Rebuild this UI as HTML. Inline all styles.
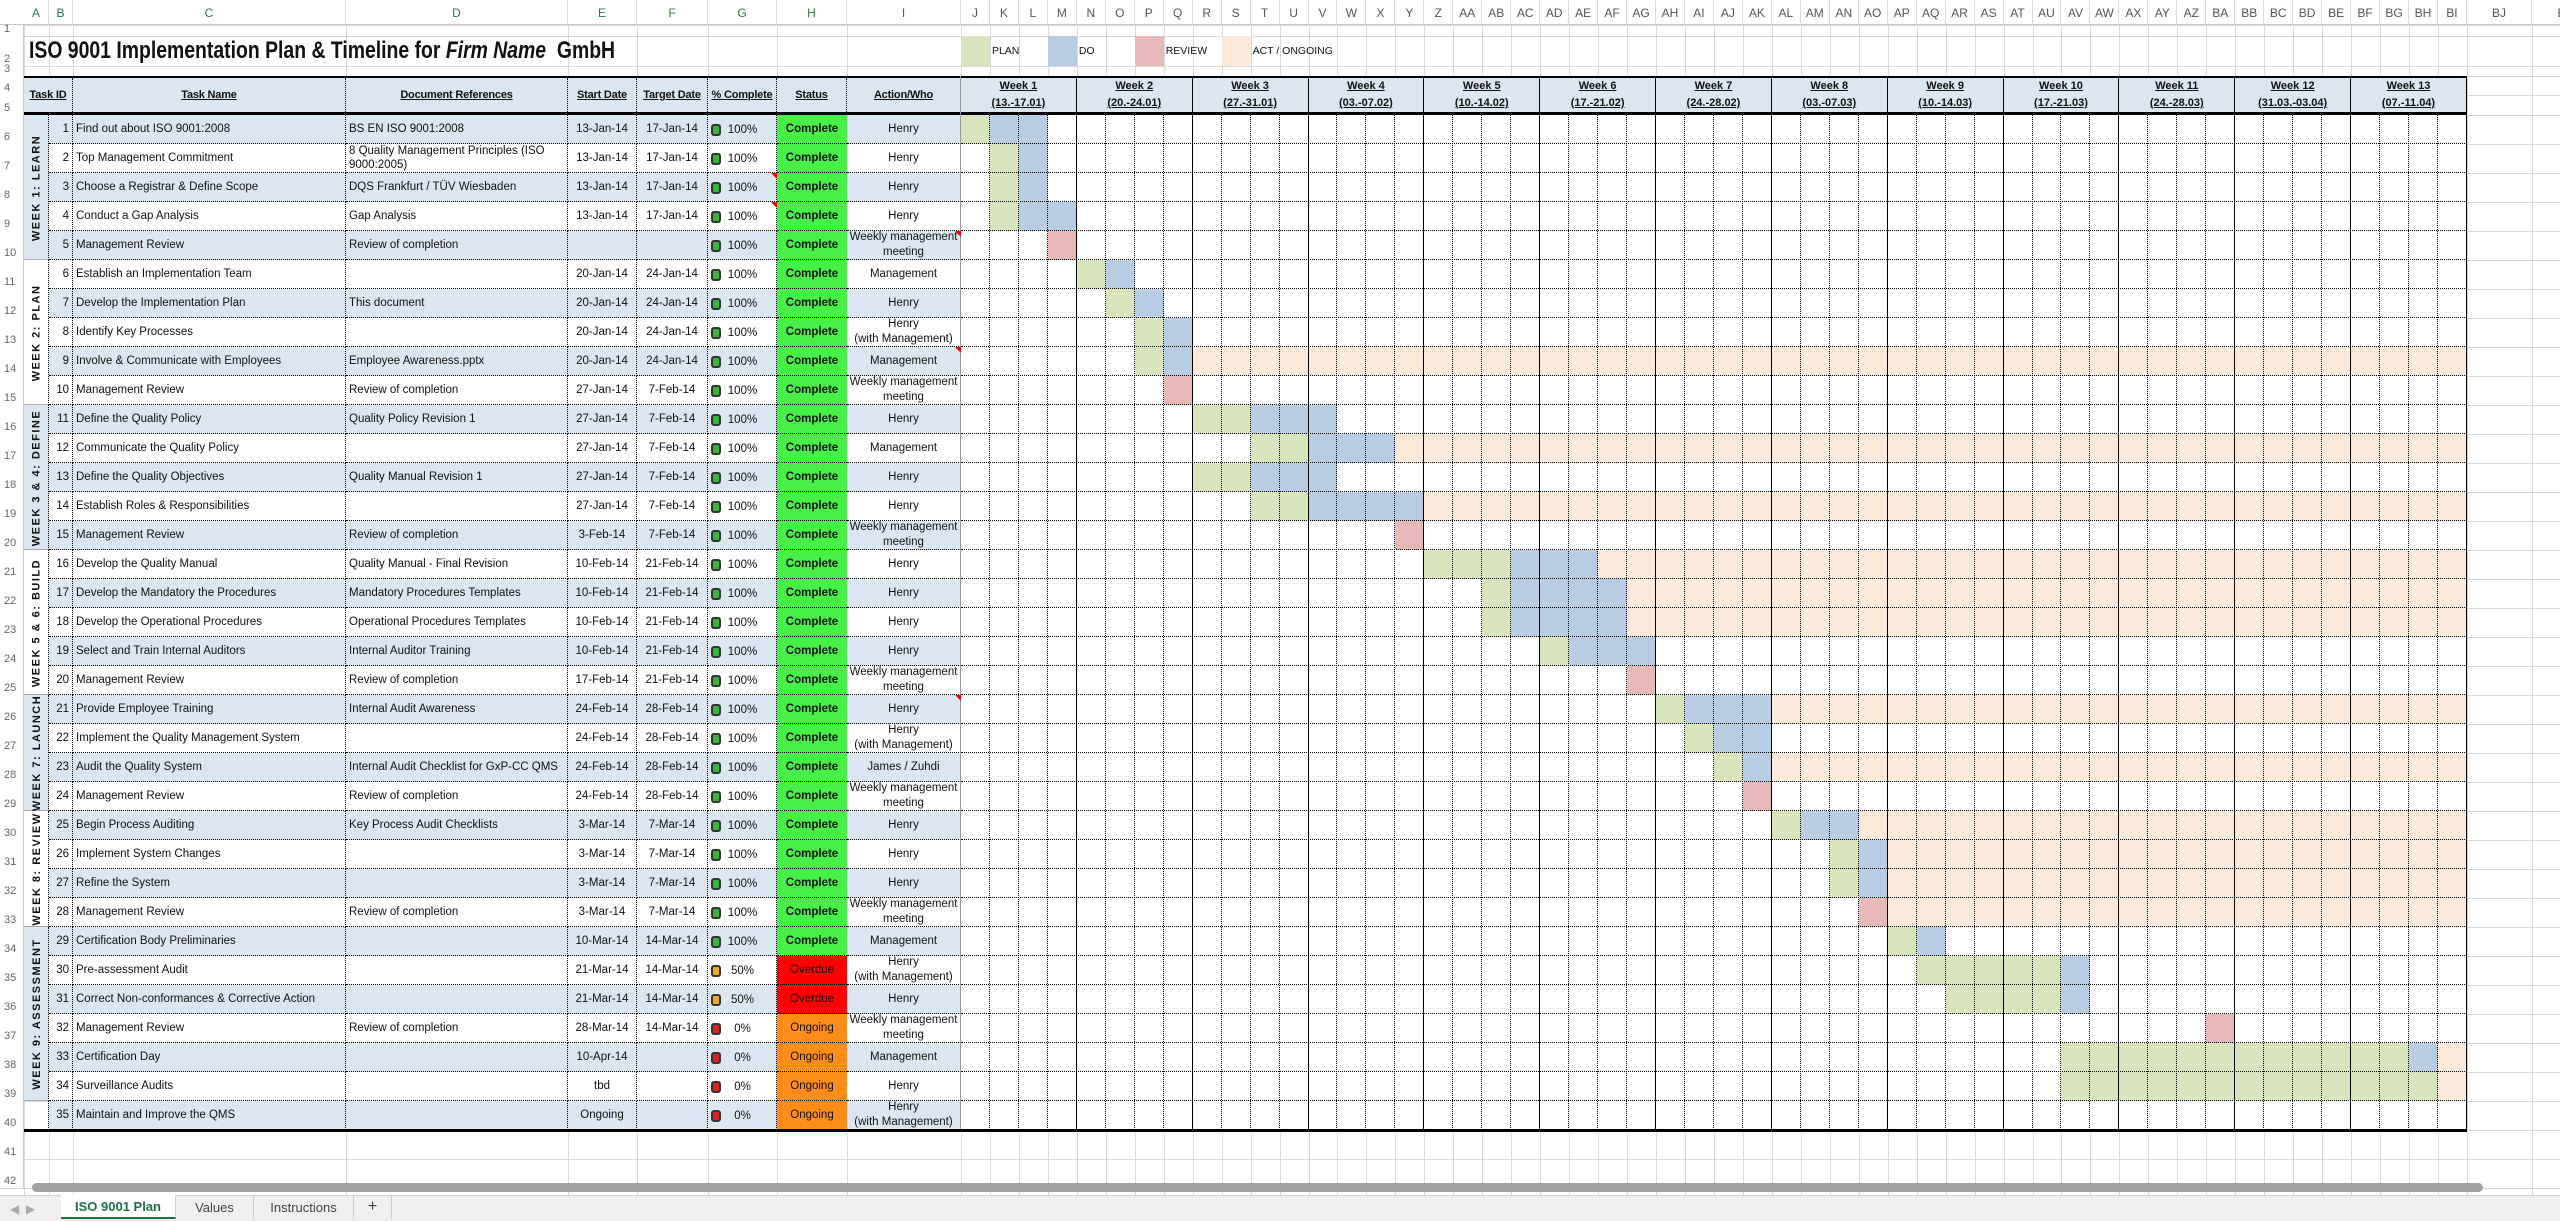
<!DOCTYPE html>
<html><head><meta charset="utf-8">
<style>
body{margin:0;width:2560px;height:1221px;position:relative;overflow:hidden;background:#fff;font-family:"Liberation Sans Narrow","Liberation Sans",sans-serif;color:#111}
.a{position:absolute;box-sizing:border-box}
.t{display:flex;align-items:center;white-space:nowrap;font-size:11.5px}
.c{justify-content:center;text-align:center}
</style></head>
<body>
<div id="sheet" class="a" style="left:0;top:0;width:2560px;height:1221px"></div>
<script>
const taskNames=["Find out about ISO 9001:2008","Top Management Commitment","Choose a Registrar & Define Scope","Conduct a Gap Analysis","Management Review","Establish an Implementation Team","Develop the Implementation Plan","Identify Key Processes","Involve & Communicate with Employees","Management Review","Define the Quality Policy","Communicate the Quality Policy","Define the Quality Objectives","Establish Roles & Responsibilities","Management Review","Develop the Quality Manual","Develop the Mandatory the Procedures","Develop the Operational Procedures","Select and Train Internal Auditors","Management Review","Provide Employee Training","Implement the Quality Management System","Audit the Quality System","Management Review","Begin Process Auditing","Implement System Changes","Refine the System","Management Review","Certification Body Preliminaries","Pre-assessment Audit","Correct Non-conformances & Corrective Action","Management Review","Certification Day","Surveillance Audits","Maintain and Improve the QMS"];
const docRefs=["BS EN ISO 9001:2008","8 Quality Management Principles (ISO<br>9000:2005)","DQS Frankfurt / TÜV Wiesbaden","Gap Analysis","Review of completion","","This document","","Employee Awareness.pptx","Review of completion","Quality Policy Revision 1","","Quality Manual Revision 1","","Review of completion","Quality Manual - Final Revision","Mandatory Procedures Templates","Operational Procedures Templates","Internal Auditor Training","Review of completion","Internal Audit Awareness","","Internal Audit Checklist for GxP-CC QMS","Review of completion","Key Process Audit Checklists","","","Review of completion","","","","Review of completion","","",""];
const startDates=["13-Jan-14","13-Jan-14","13-Jan-14","13-Jan-14","","20-Jan-14","20-Jan-14","20-Jan-14","20-Jan-14","27-Jan-14","27-Jan-14","27-Jan-14","27-Jan-14","27-Jan-14","3-Feb-14","10-Feb-14","10-Feb-14","10-Feb-14","10-Feb-14","17-Feb-14","24-Feb-14","24-Feb-14","24-Feb-14","24-Feb-14","3-Mar-14","3-Mar-14","3-Mar-14","3-Mar-14","10-Mar-14","21-Mar-14","21-Mar-14","28-Mar-14","10-Apr-14","tbd","Ongoing"];
const targetDates=["17-Jan-14","17-Jan-14","17-Jan-14","17-Jan-14","","24-Jan-14","24-Jan-14","24-Jan-14","24-Jan-14","7-Feb-14","7-Feb-14","7-Feb-14","7-Feb-14","7-Feb-14","7-Feb-14","21-Feb-14","21-Feb-14","21-Feb-14","21-Feb-14","21-Feb-14","28-Feb-14","28-Feb-14","28-Feb-14","28-Feb-14","7-Mar-14","7-Mar-14","7-Mar-14","7-Mar-14","14-Mar-14","14-Mar-14","14-Mar-14","14-Mar-14","","",""];
const pctComplete=[100,100,100,100,100,100,100,100,100,100,100,100,100,100,100,100,100,100,100,100,100,100,100,100,100,100,100,100,100,50,50,0,0,0,0];
const statuses=["Complete","Complete","Complete","Complete","Complete","Complete","Complete","Complete","Complete","Complete","Complete","Complete","Complete","Complete","Complete","Complete","Complete","Complete","Complete","Complete","Complete","Complete","Complete","Complete","Complete","Complete","Complete","Complete","Complete","Overdue","Overdue","Ongoing","Ongoing","Ongoing","Ongoing"];
const owners=["Henry","Henry","Henry","Henry","Weekly management<br>meeting","Management","Henry","Henry<br>(with Management)","Management","Weekly management<br>meeting","Henry","Management","Henry","Henry","Weekly management<br>meeting","Henry","Henry","Henry","Henry","Weekly management<br>meeting","Henry","Henry<br>(with Management)","James / Zuhdi","Weekly management<br>meeting","Henry","Henry","Henry","Weekly management<br>meeting","Management","Henry<br>(with Management)","Henry","Weekly management<br>meeting","Management","Henry","Henry<br>(with Management)"];
const planFrom=[0,1,1,1,null,4,5,6,6,null,8,10,8,10,null,16,18,18,20,null,24,25,26,null,28,30,30,null,32,33,34,null,38,38,null];
const planTo=[0,1,1,1,null,4,5,6,6,null,9,11,9,11,null,18,18,18,20,null,24,25,26,null,28,30,30,null,32,37,37,null,49,50,null];
const doFrom=[1,2,2,2,null,5,6,7,7,null,10,12,10,12,null,19,19,19,21,null,25,26,27,null,29,31,31,null,33,38,38,null,50,null,null];
const doTo=[2,2,2,3,null,5,6,7,7,null,12,14,12,15,null,21,22,22,23,null,27,27,27,null,30,31,31,null,33,38,38,null,50,null,null];
const reviewCol=[null,null,null,null,3,null,null,null,null,7,null,null,null,null,15,null,null,null,null,23,null,null,null,27,null,null,null,31,null,null,null,43,null,null,null];
const actFrom=[null,null,null,null,null,null,null,null,8,null,null,15,null,16,null,22,23,23,null,null,28,null,28,null,31,32,32,32,null,null,null,null,51,51,null];
const weekLabels=["Week 1","Week 2","Week 3","Week 4","Week 5","Week 6","Week 7","Week 8","Week 9","Week 10","Week 11","Week 12","Week 13"];
const weekDates=["(13.-17.01)","(20.-24.01)","(27.-31.01)","(03.-07.02)","(10.-14.02)","(17.-21.02)","(24.-28.02)","(03.-07.03)","(10.-14.03)","(17.-21.03)","(24.-28.03)","(31.03.-03.04)","(07.-11.04)"];
const groupLabels=["WEEK 1: LEARN","WEEK 2: PLAN","WEEK 3 & 4: DEFINE","WEEK 5 & 6: BUILD","WEEK 7: LAUNCH","WEEK 8: REVIEW","WEEK 9: ASSESSMENT"];
const groupRows=[5,5,5,5,4,4,6];

const S=document.getElementById('sheet');
const BLUE='#dce6f1',PLAN='#d8e4bc',DO='#b8cce4',REV='#e6b8b7',ACT='#fde9d9';
const DW=28.96,GX=961,NCOL=52;
const gx=i=>GX+i*DW;
const rowTop=r=>r<=5?[0,25,36,66,76,95][r]:(r<=40?115+(r-6)*29:1130+(r-41)*29);
function box(css,html,cls){const d=document.createElement('div');d.className='a '+(cls||'');d.style.cssText=css;if(html!=null)d.innerHTML=html;S.appendChild(d);return d;}

for(let r=1;r<=43;r++){const y=rowTop(r);const g=box(`left:0;top:${y}px;width:2560px;height:1px;background:#d9d9d9`);

}
const allX=[24,49,73,346,568,637,708,777,847];for(let i=0;i<=NCOL;i++)allX.push(gx(i));allX.push(2532);
allX.forEach(x=>{const g=box(`left:${Math.round(x)}px;top:25px;width:1px;height:1170px;background:#d9d9d9`);

});

function colName(n){let s='';n++;while(n>0){const m=(n-1)%26;s=String.fromCharCode(65+m)+s;n=Math.floor((n-1)/26);}return s;}
const hdrBg=box('left:0;top:0;width:2560px;height:25px;background:#fff;border-bottom:1px solid #c8c8c8');


const cx=[24,49,73,346,568,637,708,777,847];for(let i=0;i<=NCOL;i++)cx.push(gx(i));cx.push(2532,2600);
for(let i=0;i<cx.length-1;i++){const w=cx[i+1]-cx[i];
const h=box(`left:${cx[i]}px;top:0;width:${w}px;height:25px;border-right:1px solid #d9d9d9;font-family:'Liberation Sans',sans-serif;font-size:12px;color:${i<9?'#2a7a3a':'#555'}`,colName(i),'t c');

}
for(let r=1;r<=42;r++){const y=rowTop(r),hh=rowTop(r+1)-y;
const n=box(`left:0;top:${y}px;width:24px;height:${hh}px;font-family:'Liberation Sans',sans-serif;font-size:11px;color:#666;align-items:flex-end;padding:0 0 1px 4px;background:#fff;border-right:1px solid #c8c8c8`,String(r),'t');

}

const title=box('left:29px;top:36px;height:30px;font-size:24px;font-weight:bold;transform-origin:0 50%','<span>ISO 9001 Implementation Plan &amp; Timeline for <i>Firm Name</i>&nbsp; GmbH</span>','t');


const legC=[PLAN,DO,REV,ACT],legT=['PLAN','DO','REVIEW','ACT / ONGOING'],legCol=[0,3,6,9];
for(let i=0;i<4;i++){const sw=box(`left:${gx(legCol[i])}px;top:36px;width:${DW}px;height:30px;background:${legC[i]}`);


const lt=box(`left:${gx(legCol[i]+1)+2}px;top:36px;height:30px;font-size:10.5px`,legT[i],'t');

}

const hdrs=[['Task ID',24,73],['Task Name',73,346],['Document References',346,568],['Start Date',568,637],['Target Date',637,708],['% Complete',708,777],['Status',777,847],['Action/Who',847,961]];
const hb=box(`left:24px;top:76px;width:2443px;height:39px;background:${BLUE};border-top:2px solid #000;border-bottom:3px solid #000`);


hdrs.forEach(h=>{const d=box(`left:${h[1]}px;top:78px;width:${h[2]-h[1]}px;height:34px;font-weight:bold;font-size:11px;text-decoration:underline;border-right:1px dotted #000;letter-spacing:-0.2px`,h[0],'t c');

});
for(let w=0;w<13;w++){const d=box(`left:${gx(w*4)}px;top:78px;width:${DW*4}px;height:34px;font-weight:bold;font-size:11px;text-decoration:underline;border-right:1px solid #000;flex-direction:column;line-height:17px`,'<span>'+weekLabels[w]+'</span><span>'+weekDates[w]+'</span>','t c');

}

for(let i=0;i<35;i++){const y=rowTop(6+i);const bg=i%2===0?BLUE:'#fff';
const row=box(`left:49px;top:${y}px;width:912px;height:29px;background:${bg}`);


const gw=box(`left:961px;top:${y}px;width:${DW*NCOL}px;height:29px;background:#fff`);


const cells=[[49,73,String(i+1),'justify-content:flex-end;padding-right:3px'],[73,346,taskNames[i],'padding-left:3px'],[346,568,'<span>'+docRefs[i]+'</span>','padding-left:3px;white-space:normal;line-height:14px'],[568,637,startDates[i],'justify-content:center'],[637,708,targetDates[i],'justify-content:center'],[708,777,'',''],[777,847,'',''],[847,961,'<span>'+owners[i]+'</span>','justify-content:center;text-align:center;line-height:15px']];
const nm=['task-id','task-name','document-reference','start-date','target-date','percent-complete','status','action-who'];
cells.forEach((c,k)=>{const d=box(`left:${c[0]}px;top:${y}px;width:${c[1]-c[0]}px;height:29px;border-right:1px dotted #000;border-bottom:1px dotted #000;overflow:visible;${c[3]}`,c[2],'t');

});
const sc=statuses[i]==='Complete'?'#46f046':statuses[i]==='Overdue'?'#ff0000':'#fd8c18';
const st=box(`left:777px;top:${y}px;width:70px;height:29px;background:${sc};border-bottom:1px dotted #000;font-weight:${statuses[i]==='Complete'?'bold':'normal'}`,statuses[i],'t c');


const p=pctComplete[i];const ic=p===100?'#34b934':p>=50?'#f5a623':'#e02020';
const icon=box(`left:711px;top:${y+9}px;width:10px;height:12px;border:2px solid #333;border-radius:3px;background:${ic}`);


const pt=box(`left:725px;top:${y}px;width:35px;height:29px`,p+'%','t c');


const fill=(a,b,col,name)=>{if(a==null)return;const f=box(`left:${gx(a)}px;top:${y}px;width:${(b-a+1)*DW}px;height:29px;background:${col}`);

};
fill(planFrom[i],planTo[i],PLAN,'plan');
fill(doFrom[i],doTo[i],DO,'do');
fill(reviewCol[i],reviewCol[i],REV,'review');
fill(actFrom[i],actFrom[i]==null?null:NCOL-1,ACT,'act');
const gl=box(`left:961px;top:${y+28}px;width:${DW*NCOL}px;height:0;border-bottom:1px dotted #000`);

}
for(let c=1;c<=NCOL;c++){const v=box(`left:${Math.round(gx(c))-1}px;top:115px;width:0;height:1015px;border-left:1px ${c%4===0?'solid':'dotted'} #000`);

}
const jl=box('left:960px;top:76px;width:1px;height:1054px;background:#999');


let gr=6;groupLabels.forEach((g,k)=>{const y=rowTop(gr),h=groupRows[k]*29;
const d=box(`left:24px;top:${y}px;width:25px;height:${h}px;background:${k%2===0?BLUE:'#fff'};border-right:1px dotted #000;border-bottom:1px solid #aaa`);


const t=box(`left:${24+12.5-h/2}px;top:${y+h/2-8}px;width:${h}px;height:16px;transform:rotate(-90deg);font-family:'Liberation Sans',sans-serif;font-size:11px;font-weight:bold;letter-spacing:1.5px`,g,'t c');


gr+=groupRows[k];});
const a40=box(`left:24px;top:${rowTop(40)}px;width:25px;height:29px;border-right:1px dotted #000`);


const bot=box('left:24px;top:1129px;width:2443px;height:3px;background:#000');


const rgt=box('left:2466px;top:76px;width:1px;height:1054px;background:#000');


[[777,rowTop(8)],[777,rowTop(9)],[961,rowTop(10)],[961,rowTop(14)],[961,rowTop(26)]].forEach(m=>{const t=box(`left:${m[0]-6}px;top:${m[1]}px;width:0;height:0;border-left:6px solid transparent;border-top:6px solid #e00`);

});

const sb=box('left:32px;top:1183px;width:2451px;height:9px;background:#a2a2a2;border-radius:5px');


const tb=box('left:0;top:1195px;width:2560px;height:26px;background:#efefef;border-top:1px solid #d0d0d0');


const nav=box("left:10px;top:1196px;width:50px;height:25px;color:#aaa;font-size:12px;font-family:'Liberation Sans',sans-serif",'◀&nbsp;&nbsp;▶','t');


const tabs=[['ISO 9001 Plan',61,176,true],['Values',176,254,false],['Instructions',254,354,false],['+',354,392,false]];
tabs.forEach(t=>{const d=box(`left:${t[1]}px;top:1195px;width:${t[2]-t[1]}px;height:24px;font-family:'Liberation Sans',sans-serif;font-size:${t[0]==='+'?16:13}px;border-right:1px solid #ccc;${t[3]?'background:#fff;color:#1e7145;font-weight:bold;border-bottom:2px solid #1e7145':'color:#444'}`,t[0],'t c');

});

const tw=title.scrollWidth;title.style.transform=`scaleX(${586/tw})`;
</script>
</body></html>
